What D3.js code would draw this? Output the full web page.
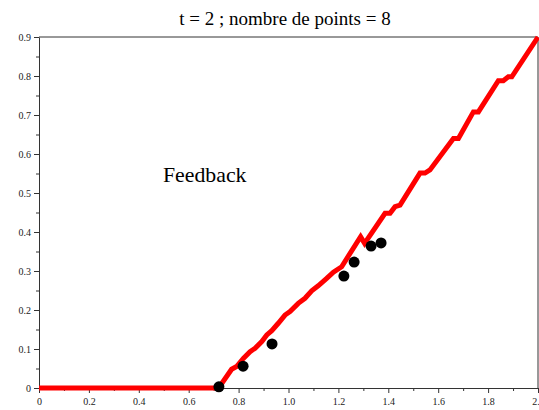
<!DOCTYPE html>
<html>
<head>
<meta charset="utf-8">
<script src="https://cdn.jsdelivr.net/npm/d3@7"></script>
<style>
  body { margin: 0; background: #fff; }
  svg { display: block; font-family: "Liberation Serif", "DejaVu Serif", serif; }
</style>
</head>
<body>
<div id="chart"></div>
<script>
// values
const titleText = "t = 2 ; nombre de points = 8";
const labelText = "Feedback";

// red curve (x, y)
const curveX = [0, 0.72, 0.772, 0.792, 0.819, 0.846, 0.866, 0.893, 0.913, 0.933, 0.959, 0.986, 1.006,
  1.039, 1.066, 1.093, 1.119, 1.153, 1.180, 1.213, 1.289, 1.305, 1.387, 1.407, 1.427, 1.447,
  1.527, 1.547, 1.567, 1.661, 1.681, 1.741, 1.761, 1.841, 1.861, 1.881, 1.895, 2.0];
const curveY = [0, 0, 0.048, 0.055, 0.076, 0.093, 0.102, 0.119, 0.136, 0.147, 0.166, 0.187, 0.196,
  0.217, 0.230, 0.249, 0.262, 0.281, 0.297, 0.311, 0.388, 0.371, 0.448, 0.448, 0.465, 0.469,
  0.551, 0.551, 0.559, 0.640, 0.640, 0.708, 0.708, 0.788, 0.788, 0.798, 0.798, 0.9];

// black sample points
const pointX = [0.721, 0.818, 0.934, 1.222, 1.263, 1.331, 1.371];
const pointY = [0.003, 0.056, 0.113, 0.287, 0.323, 0.364, 0.372];

const xTicks = [0, 0.2, 0.4, 0.6, 0.8, 1.0, 1.2, 1.4, 1.6, 1.8, 2.0];
const yTicks = [0, 0.1, 0.2, 0.3, 0.4, 0.5, 0.6, 0.7, 0.8, 0.9];

const width = 539, height = 410;
const margin = { top: 37, right: 1, bottom: 22, left: 39 };

const svg = d3.select("#chart").append("svg")
  .attr("width", width)
  .attr("height", height);

const xScale = d3.scaleLinear().domain([0, 2]).range([margin.left, width - margin.right]);
const yScale = d3.scaleLinear().domain([0, 0.9]).range([height - margin.bottom, margin.top]);

const axisColor = "#333";
const serif = '"Liberation Serif", "DejaVu Serif", serif';

// frame (top + right)
svg.append("path")
  .attr("d", `M${xScale(0)},${yScale(0.9)}H${xScale(2)}V${yScale(0)}`)
  .attr("fill", "none")
  .attr("stroke", axisColor)
  .attr("stroke-width", 1);

// minor ticks first
const xMinor = d3.axisBottom(xScale).tickValues(d3.range(0.1, 2, 0.2)).tickSize(3).tickFormat("");
const yMinor = d3.axisLeft(yScale).tickValues(d3.range(0.05, 0.9, 0.1)).tickSize(3).tickFormat("");

svg.append("g").attr("transform", `translate(0,${yScale(0)})`).call(xMinor)
  .call(g => g.select(".domain").remove())
  .selectAll("line").attr("stroke", axisColor);
svg.append("g").attr("transform", `translate(${xScale(0)},0)`).call(yMinor)
  .call(g => g.select(".domain").remove())
  .selectAll("line").attr("stroke", axisColor);

const xAxis = d3.axisBottom(xScale).tickValues(xTicks).tickSize(5).tickSizeOuter(0).tickPadding(5)
  .tickFormat(d => d === 0 ? "0" : d3.format(".1f")(d));
const yAxis = d3.axisLeft(yScale).tickValues(yTicks).tickSize(5).tickSizeOuter(0).tickPadding(3)
  .tickFormat(d => d === 0 ? "0" : d3.format(".1f")(d));

const gx = svg.append("g").attr("transform", `translate(0,${yScale(0)})`).call(xAxis);
const gy = svg.append("g").attr("transform", `translate(${xScale(0)},0)`).call(yAxis);

[gx, gy].forEach(g => {
  g.attr("font-family", serif).attr("font-size", 10);
  g.select(".domain").attr("stroke", axisColor);
  g.selectAll("line").attr("stroke", axisColor);
  g.selectAll("text")
    .attr("fill", "#222")
    .style("font-family", serif)
    .style("font-size", "10px");
});

// red curve
const curve = curveX.map((x, i) => [x, curveY[i]]);
const line = d3.line().x(d => xScale(d[0])).y(d => yScale(d[1]));

svg.append("path")
  .datum(curve)
  .attr("d", line)
  .attr("fill", "none")
  .attr("stroke", "#ff0000")
  .attr("stroke-width", 5)
  .attr("stroke-linejoin", "miter");

// points
svg.selectAll("circle.pt")
  .data(pointX.map((x, i) => [x, pointY[i]]))
  .enter()
  .append("circle")
  .attr("class", "pt")
  .attr("cx", d => xScale(d[0]))
  .attr("cy", d => yScale(d[1]))
  .attr("r", 5.5)
  .attr("fill", "#000");

// title
svg.append("text")
  .attr("x", 285)
  .attr("y", 25)
  .attr("text-anchor", "middle")
  .style("font-family", serif)
  .style("font-size", "19px")
  .attr("fill", "#000")
  .text(titleText);

// annotation
svg.append("text")
  .attr("x", xScale(0.497))
  .attr("y", yScale(0.528))
  .style("font-family", serif)
  .style("font-size", "21.8px")
  .attr("fill", "#000")
  .text(labelText);
</script>
</body>
</html>
